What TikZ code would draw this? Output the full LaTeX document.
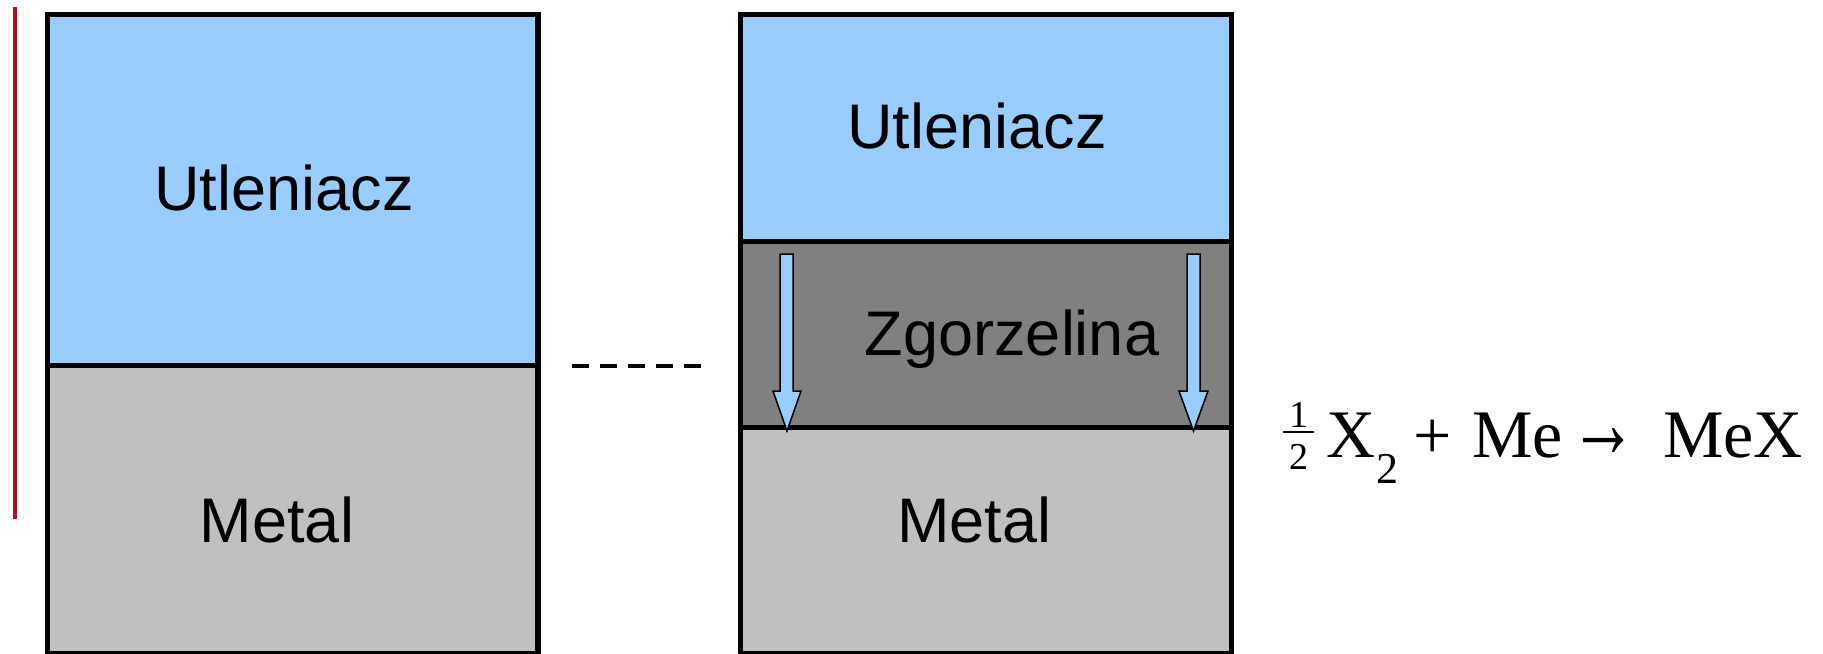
\documentclass[tikz,border=0pt]{standalone}
\usepackage{fontspec}
\setmainfont{Liberation Serif}
\newfontfamily\labelfont{Liberation Sans}
\usepackage{graphicx}
\definecolor{oxid}{RGB}{153,204,255}
\definecolor{metalgray}{RGB}{192,192,192}
\definecolor{scalegray}{RGB}{128,128,128}
\definecolor{redline}{RGB}{180,16,28}
\tikzset{
  layerborder/.style={line width=2.6pt, draw=black, line join=miter},
  layerlabel/.style={font=\labelfont\fontsize{31.5}{36}\selectfont, anchor=base, inner sep=0pt},
  eqpart/.style={font=\fontsize{34}{40}\selectfont, anchor=base, inner sep=0pt},
  eqsmall/.style={font=\fontsize{19}{23}\selectfont, anchor=base, inner sep=0pt},
  eqsub/.style={font=\fontsize{22}{26}\selectfont, anchor=base, inner sep=0pt},
  flowarrow/.style={fill=oxid, draw=black, line width=0.75pt, line join=miter},
}
\begin{document}
\begin{tikzpicture}[x=0.5pt,y=-0.5pt]
\useasboundingbox (0,0) rectangle (1823,653);
\clip (0,0) rectangle (1823,653);

% red vertical line
\coordinate (redtop) at (15,7);
\coordinate (redbot) at (15,519);
\draw[redline, line width=2.2pt] (redtop) -- (redbot);

% left column
\fill[oxid] (47.5,14.5) rectangle (538,365.5);
\fill[metalgray] (47.5,365.5) rectangle (538,654);
\draw[layerborder] (47.5,14.5) rectangle (538,654);
\draw[layerborder] (47.5,365.5) -- (538,365.5);
\node[layerlabel] (leftox) at (284,210) {Utleniacz};
\node[layerlabel] (leftmetal) at (277,542) {Metal};

% dashed link
\coordinate (dashA) at (572,366);
\coordinate (dashB) at (701,366);
\draw[line width=2pt, dash pattern=on 8.25pt off 5.75pt] (dashA) -- (dashB);

% right column
\fill[oxid] (740.5,14.5) rectangle (1231.5,241.5);
\fill[scalegray] (740.5,241.5) rectangle (1231.5,427.5);
\fill[metalgray] (740.5,427.5) rectangle (1231.5,654);
\draw[layerborder] (740.5,14.5) rectangle (1231.5,654);
\draw[layerborder] (740.5,241.5) -- (1231.5,241.5);
\draw[layerborder] (740.5,427.5) -- (1231.5,427.5);
\node[layerlabel] (rightox) at (977,148) {Utleniacz};
\node[layerlabel] (scale) at (1012,355) {Zgorzelina};
\node[layerlabel] (rightmetal) at (974.5,542) {Metal};

% block arrows
\draw[flowarrow] (780,254) -- (793,254) -- (793,391) -- (801,391) -- (787,431) -- (773,391) -- (780,391) -- cycle;
\draw[flowarrow] (1187,254) -- (1200,254) -- (1200,391) -- (1208,391) -- (1193.5,431) -- (1179,391) -- (1187,391) -- cycle;

% reaction
\node[eqsmall] (one) at (1299,427) {1};
\node[eqsmall] (two) at (1298.5,469) {2};
\coordinate (barL) at (1283,432);
\coordinate (barR) at (1314,432);
\draw[line width=1.1pt] (barL) -- (barR);
\node[eqpart] (xx) at (1351,457) {X};
\node[eqsub] (sub) at (1387,483) {2};
\node[eqpart] (plus) at (1433,458) {+};
\node[eqpart] (me) at (1517.5,457) {Me};
\node[eqpart] (arr) at (1603.5,457) {\scalebox{1}[1.5]{→}};
\node[eqpart] (mex) at (1733,457) {MeX};
\end{tikzpicture}
\end{document}
